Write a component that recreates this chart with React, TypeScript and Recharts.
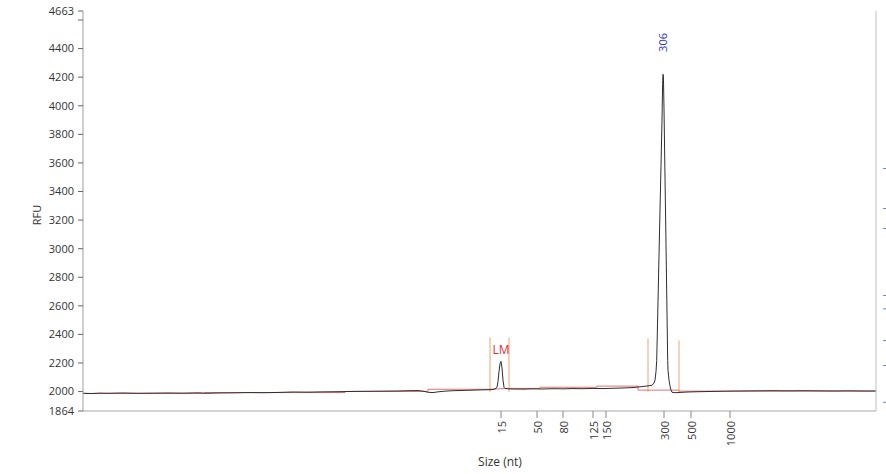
import React from 'react';
import { LineChart, Line, XAxis, YAxis, ReferenceLine, ReferenceDot, Label } from 'recharts';

// Electropherogram trace: scan position vs RFU
const traceScan = [
  0, 8, 17, 25, 40, 55, 70, 85, 100, 115, 125, 135, 150, 165, 180, 195, 210, 225, 240, 255,
  270, 285, 300, 315, 325, 335, 340, 345, 350, 355, 362, 370, 380, 390, 400, 407, 410, 412,
  414, 415, 416, 417, 418, 419, 420, 421, 422, 425, 430, 440, 450, 460, 470, 480, 490, 500,
  510, 520, 530, 540, 550, 558, 565, 569, 571, 572, 573, 573.7, 574, 575, 576, 577, 578, 579,
  579.6, 580, 580.4, 581, 582, 583, 584, 584.7, 585, 586, 587, 588, 589, 592, 597, 605, 615,
  630, 645, 660, 675, 690, 705, 720, 735, 750, 765, 780, 793,
];
const traceRfu = [
  1988, 1986, 1989, 1988, 1990, 1988, 1989, 1990, 1989, 1991, 1988, 1990, 1991, 1993, 1992, 1994, 1997, 1996, 1998, 1999,
  2001, 2002, 2003, 2004, 2006, 2007, 2003, 1995, 1993, 1998, 2003, 2006, 2008, 2010, 2012, 2013, 2015, 2018,
  2030, 2070, 2140, 2195, 2211, 2165, 2080, 2030, 2022, 2019, 2018, 2017, 2019, 2018, 2020, 2019, 2021, 2020,
  2022, 2021, 2023, 2025, 2028, 2034, 2040, 2044, 2060, 2080, 2140, 2218, 2310, 2630, 2950, 3270, 3580, 3900,
  4150, 4220, 4210, 3980, 3500, 3030, 2550, 2218, 2150, 2080, 2040, 2010, 1995, 1992, 1994, 1997, 1999,
  2001, 2003, 2004, 2005, 2006, 2005, 2006, 2005, 2004, 2005, 2004, 2004,
];

// Baseline (red) segments
const baseScan = [0, 122, 122, 262, 262, 345, 345, 407, 426, 457, 457, 514, 514, 555, 555, 596, 596, 793];
const baseRfu = [1987, 1987, 1993, 1993, 2001, 2001, 2016, 2016, 2022, 2022, 2030, 2030, 2038, 2038, 2010, 2010, 2003, 2003];

// Peak window markers (orange)
const windowScans = [407, 426, 565, 596];
const windowTops = [2379, 2379, 2372, 2358];

// Size axis tick positions and labels
const sizeTickScans = [418, 454, 480, 510, 523, 581, 608, 647];
const sizeTickLabels = ['15', '50', '80', '125', '150', '300', '500', '1000'];

// RFU ticks
const rfuTicks = [1864, 2000, 2200, 2400, 2600, 2800, 3000, 3200, 3400, 3600, 3800, 4000, 4200, 4400, 4600, 4663];
const rightMarkerValues = [3561, 3281, 3141, 2672, 2579, 2357, 2182, 1925];

// Annotations
const lmLabel = { scan: 418, rfu: 2290, text: 'LM' };
const peakLabel = { scan: 580, rfu: 4443, text: '306' };

const traceRows = traceScan.map((s, i) => ({ scan: s, rfu: traceRfu[i] }));
const baseRows = baseScan.map((s, i) => ({ scan: s, base: baseRfu[i] }));

const FONT = '"Open Sans", "Noto Sans", sans-serif';

const SizeTick = (props: any) => {
  const { x, y, payload } = props;
  const idx = sizeTickScans.indexOf(payload.value);
  const label = idx >= 0 ? sizeTickLabels[idx] : '';
  return (
    <text
      x={x}
      y={y}
      transform={`rotate(-90, ${x}, ${y})`}
      textAnchor="end"
      dominantBaseline="central"
      fontSize={11}
      fontFamily={FONT}
      fill="#333"
    >
      {label}
    </text>
  );
};

const RightMarkTick = (props: any) => {
  const { x, y } = props;
  return <line x1={x + 7} x2={x + 10} y1={y} y2={y} stroke="#7c86c4" strokeWidth={1} />;
};

export default function App() {
  return (
    <div style={{ position: 'absolute', left: 0, top: 0, background: '#fff' }}>
      <LineChart width={886} height={474} data={traceRows} margin={{ top: 11, right: 0, bottom: 0, left: 0 }}>
        <XAxis
          dataKey="scan"
          type="number"
          domain={[0, 793]}
          ticks={sizeTickScans}
          interval={0}
          tickSize={7}
          tickMargin={3}
          height={63}
          stroke="#a8a8a8"
          tickLine={{ stroke: '#888' }}
          tick={<SizeTick />}
          allowDataOverflow
        >
          <Label
            content={() => (
              <text x={500} y={466} textAnchor="middle" fontSize={12} fontFamily={FONT} fill="#333">
                Size (nt)
              </text>
            )}
          />
        </XAxis>
        <XAxis
          xAxisId="top"
          orientation="top"
          dataKey="scan"
          type="number"
          domain={[0, 793]}
          height={0}
          tick={false}
          tickLine={false}
          stroke="#b0b0b0"
        />
        <YAxis
          type="number"
          domain={[1864, 4663]}
          ticks={rfuTicks}
          interval={0}
          width={83}
          tickSize={5}
          tickMargin={4}
          stroke="#a0a0a0"
          tickLine={{ stroke: '#666' }}
          tick={{ fill: '#333', fontSize: 11, fontFamily: FONT }}
          tickFormatter={(v: number) => (v === 4600 ? '' : String(v))}
          allowDataOverflow
        >
          <Label
            content={() => (
              <text
                x={41}
                y={215}
                transform="rotate(-90, 41, 215)"
                textAnchor="middle"
                fontSize={11}
                fontFamily={FONT}
                fill="#333"
              >
                RFU
              </text>
            )}
          />
        </YAxis>
        <YAxis
          yAxisId="right"
          orientation="right"
          type="number"
          domain={[1864, 4663]}
          ticks={rightMarkerValues}
          interval={0}
          width={10}
          tickSize={0}
          tickMargin={0}
          tickLine={false}
          stroke="#c0c0c0"
          tick={<RightMarkTick />}
          allowDataOverflow
        />
        {windowScans.map((s, i) => (
          <ReferenceLine
            key={'w' + i}
            segment={[
              { x: s, y: 1998 },
              { x: s, y: windowTops[i] },
            ]}
            stroke="#f2a070"
            strokeWidth={1}
            ifOverflow="visible"
          />
        ))}
        <Line
          data={baseRows}
          dataKey="base"
          type="linear"
          stroke="#e87070"
          strokeWidth={1}
          dot={false}
          isAnimationActive={false}
        />
        <Line
          dataKey="rfu"
          type="linear"
          stroke="#2e2e2e"
          strokeWidth={1}
          dot={false}
          isAnimationActive={false}
        />
        <ReferenceDot
          x={lmLabel.scan}
          y={lmLabel.rfu}
          r={1}
          fill="none"
          stroke="none"
          label={{ value: lmLabel.text, position: 'center', fill: '#e0303a', fontSize: 12, fontFamily: FONT }}
        />
        <ReferenceDot
          x={peakLabel.scan}
          y={peakLabel.rfu}
          r={1}
          fill="none"
          stroke="none"
          label={{ value: peakLabel.text, position: 'center', angle: -90, fill: '#2c2cc8', fontSize: 11, fontFamily: FONT }}
        />
      </LineChart>
    </div>
  );
}
